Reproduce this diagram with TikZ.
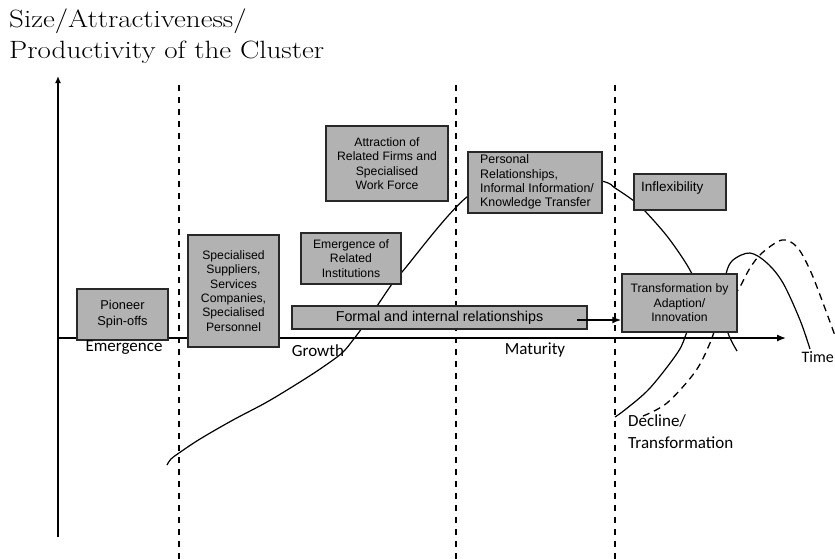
\documentclass[tikz,border=0pt]{standalone}
\usepackage{fontspec}
\setsansfont{Liberation Sans}
\newfontfamily\phasefont{Carlito}
\usetikzlibrary{arrows.meta}
\definecolor{boxgray}{RGB}{178,178,178}
\definecolor{edgegray}{RGB}{40,40,40}
\newcommand{\widetitle}[1]{\scalebox{1.16}[1]{#1}}

\begin{document}
\begin{tikzpicture}[x=1pt,y=-1pt,
  box/.style={draw=edgegray, fill=boxgray, line width=1.3pt, inner sep=0pt,
    align=center, font=\sffamily\fontsize{12.2}{14.4}\selectfont},
  boxtext/.style={inner sep=0pt, align=left, font=\sffamily\fontsize{12.4}{14.4}\selectfont},
  phase/.style={inner sep=0pt, font=\phasefont\fontsize{17}{22}\selectfont},
  title/.style={inner sep=0pt, anchor=base west, font=\fontsize{25}{30}\selectfont},
  axis/.style={line width=1.3pt, -{Latex[length=9pt,width=7pt]}},
  divider/.style={line width=1.8pt, dash pattern=on 6pt off 6pt},
  curve/.style={line width=1.2pt},
  altcurve/.style={line width=1.3pt, dash pattern=on 7pt off 5pt}]

\useasboundingbox (0,0) rectangle (835,558);

% axis title
\node[title] (ttl1) at (9,27) {\widetitle{Size/Attractiveness/}};
\node[title] (ttl2) at (9,58) {\widetitle{Productivity of the Cluster}};

% axes
\coordinate (origin) at (58,338);
\coordinate (ytop) at (58,76);
\coordinate (ybot) at (58,537);
\coordinate (xend) at (786,338);
\draw[line width=1.3pt] (origin) -- (ybot);
\draw[line width=1.3pt, -{Latex[length=7pt,width=6pt]}] (origin) -- (ytop);
\draw[axis] (origin) -- (xend);

% phase boundaries
\foreach \xx/\nm in {179/da, 456/db, 615/dc} {
  \coordinate (\nm top) at (\xx,85);
  \coordinate (\nm bot) at (\xx,560);
  \draw[divider] (\nm top) -- (\nm bot);
}

% life cycle of the cluster
\draw[curve] plot[smooth, tension=0.55] coordinates {
  (167,465) (171,459) (179,453) (200,439) (233,420) (267,402) (300,382)
  (323,367) (342,353) (353,340) (362,328) (377,306) (392,284) (402,272)
  (468,196) (535,165) (602,181)
  (615,188) (634,201) (645,211) (670,240) (693,276) (699,305) (687,332)
  (678,352) (650,388) (626,409) (615,417)};

% renewed cycle
\draw[curve] plot[smooth, tension=0.55] coordinates {
  (737,351) (728,333) (722,305) (726,274) (733,260) (750,253) (767,263)
  (783,283) (800,320) (810,349)};

% alternative cycle
\draw[altcurve] plot[smooth, tension=0.55] coordinates {
  (643,416) (667,403) (695,372) (710,343) (722,310) (738,290) (750,268)
  (762,253) (782,240) (797,247) (810,270) (823,303) (842,355)};

% phase boxes
\node[box, minimum width=91pt, minimum height=51pt, font=\sffamily\fontsize{12.8}{16}\selectfont]
  (pioneer) at (122.5,314.5) {Pioneer\\Spin-offs};
\node[box, minimum width=91pt, minimum height=112pt]
  (suppliers) at (233.5,291) {Specialised\\Suppliers,\\Services\\Companies,\\Specialised\\Personnel};
\node[box, minimum width=122pt, minimum height=75pt]
  (attraction) at (387,163.5) {Attraction of\\Related Firms and\\Specialised\\Work Force};
\node[box, minimum width=100pt, minimum height=51pt]
  (institutions) at (351,258.5) {Emergence of\\Related\\Institutions};
\node[box, minimum width=295pt, minimum height=23pt, font=\sffamily\fontsize{14.3}{17}\selectfont]
  (formal) at (439.5,317.5) {Formal and internal relationships};
\node[box, minimum width=134pt, minimum height=61pt] (personal) at (535,182.5) {};
\node[boxtext, anchor=west] (personaltxt) at (480,182)
  {Personal\\Relationships,\\Informal Information/\\Knowledge Transfer};
\node[box, minimum width=92pt, minimum height=36pt] (inflex) at (680,192) {};
\node[boxtext, anchor=west, font=\sffamily\fontsize{13.5}{16}\selectfont]
  (inflextxt) at (641,188) {Inflexibility};
\node[box, minimum width=115pt, minimum height=58pt]
  (transform) at (679.5,303) {Transformation by\\Adaption/\\Innovation};

% relationships feeding the transformation
\coordinate (fstart) at (577,320);
\draw[line width=2pt, -{Latex[length=9pt,width=7pt]}] (fstart) -- (fstart -| transform.west);

% phase names
\node[phase] (emergence) at (124,347) {Emergence};
\node[phase] (growth) at (318,351) {Growth};
\node[phase] (maturity) at (535,350) {Maturity};
\node[phase, anchor=east, font=\phasefont\fontsize{16}{20}\selectfont] (time) at (834,357) {Time};
\node[phase, anchor=north west, align=left] (decline) at (628,414) {Decline/\\Transformation};
\end{tikzpicture}
\end{document}
